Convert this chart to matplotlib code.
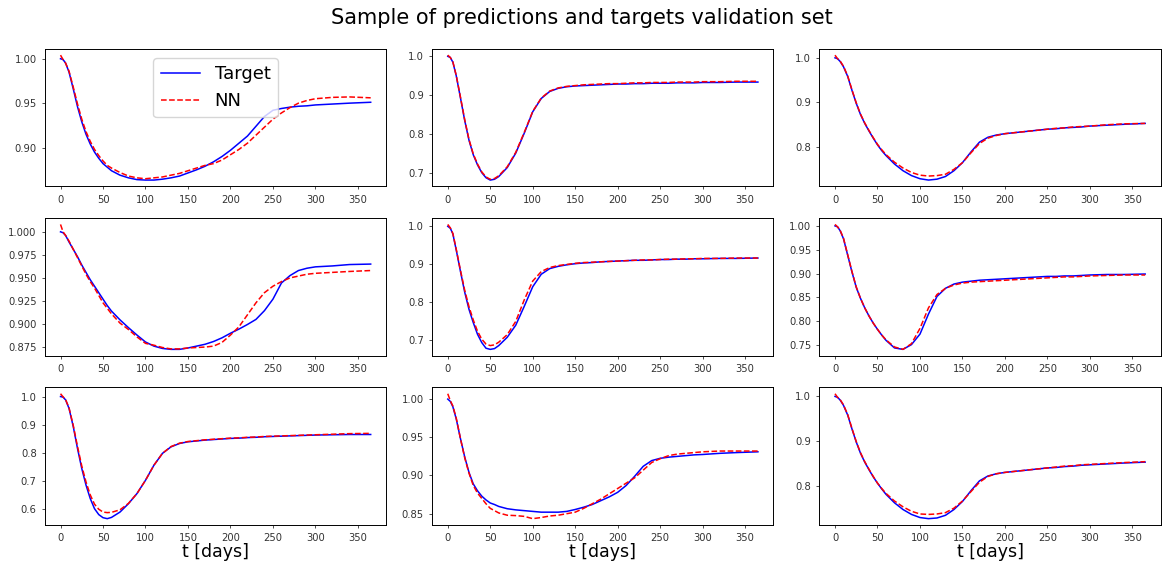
import matplotlib
matplotlib.use('Agg')
import matplotlib.pyplot as plt
import matplotlib.ticker as mticker

plt.rcParams.update({
    'font.family': 'DejaVu Sans',
    'xtick.labelsize': 7.2,
    'ytick.labelsize': 7.2,
    'xtick.major.size': 2.5,
    'ytick.major.size': 2.5,
    'xtick.major.width': 0.6,
    'ytick.major.width': 0.6,
    'axes.linewidth': 0.7,
})

# days
T = [0, 3, 6, 10, 15, 20, 25, 30, 35, 40, 45, 50, 55, 60, 70, 80, 90, 100, 110, 120,
     130, 140, 150, 160, 170, 180, 190, 200, 210, 220, 230, 240, 250, 260, 270, 280,
     290, 300, 320, 340, 365]

target_1 = [1.000, 0.999, 0.995, 0.985, 0.966, 0.946, 0.929, 0.915, 0.904, 0.895, 0.888,
            0.882, 0.878, 0.874, 0.869, 0.866, 0.864, 0.8635, 0.8635, 0.8645, 0.866, 0.868,
            0.8715, 0.875, 0.879, 0.884, 0.890, 0.897, 0.905, 0.913, 0.924, 0.935, 0.942,
            0.944, 0.9455, 0.9465, 0.947, 0.948, 0.949, 0.950, 0.951]
nn_1 = [1.004, 0.999, 0.995, 0.986, 0.968, 0.949, 0.932, 0.918, 0.907, 0.898, 0.891, 0.885,
        0.880, 0.877, 0.872, 0.868, 0.866, 0.865, 0.866, 0.867, 0.869, 0.871, 0.874, 0.877,
        0.880, 0.882, 0.886, 0.892, 0.898, 0.905, 0.914, 0.923, 0.932, 0.939, 0.945, 0.950,
        0.953, 0.955, 0.9565, 0.957, 0.956]

target_2 = [1.000, 0.997, 0.985, 0.950, 0.893, 0.835, 0.785, 0.748, 0.722, 0.702, 0.689,
            0.683, 0.685, 0.692, 0.715, 0.752, 0.803, 0.858, 0.892, 0.910, 0.918, 0.922,
            0.924, 0.925, 0.926, 0.927, 0.928, 0.929, 0.929, 0.930, 0.930, 0.931, 0.931,
            0.931, 0.932, 0.932, 0.932, 0.933, 0.933, 0.934, 0.934]
nn_2 = [1.003, 0.997, 0.986, 0.951, 0.895, 0.837, 0.787, 0.750, 0.724, 0.704, 0.691, 0.685,
        0.687, 0.694, 0.717, 0.754, 0.805, 0.859, 0.893, 0.911, 0.919, 0.923, 0.925, 0.927,
        0.928, 0.929, 0.930, 0.930, 0.931, 0.932, 0.932, 0.933, 0.933, 0.933, 0.934, 0.934,
        0.934, 0.935, 0.935, 0.936, 0.936]

target_3 = [1.000, 0.998, 0.992, 0.980, 0.958, 0.927, 0.898, 0.873, 0.853, 0.836, 0.820,
            0.805, 0.792, 0.781, 0.762, 0.747, 0.736, 0.729, 0.726, 0.728, 0.734, 0.747,
            0.765, 0.789, 0.811, 0.822, 0.827, 0.830, 0.832, 0.834, 0.836, 0.838, 0.840,
            0.841, 0.843, 0.844, 0.845, 0.847, 0.849, 0.851, 0.853]
nn_3 = [1.006, 0.998, 0.993, 0.981, 0.959, 0.928, 0.899, 0.874, 0.854, 0.837, 0.821, 0.806,
        0.794, 0.783, 0.766, 0.753, 0.743, 0.737, 0.735, 0.736, 0.739, 0.750, 0.765, 0.787,
        0.808, 0.820, 0.826, 0.830, 0.832, 0.834, 0.836, 0.838, 0.840, 0.842, 0.843, 0.845,
        0.846, 0.847, 0.850, 0.852, 0.853]

target_4 = [1.000, 0.999, 0.996, 0.989, 0.981, 0.973, 0.964, 0.956, 0.948, 0.941, 0.934,
            0.927, 0.920, 0.914, 0.9045, 0.896, 0.888, 0.8805, 0.876, 0.8735, 0.8725, 0.8725,
            0.874, 0.876, 0.878, 0.881, 0.885, 0.890, 0.8945, 0.8995, 0.905, 0.9145, 0.927,
            0.9445, 0.9525, 0.958, 0.9605, 0.962, 0.963, 0.9645, 0.965]
nn_4 = [1.008, 1.000, 0.996, 0.990, 0.981, 0.972, 0.963, 0.954, 0.946, 0.939, 0.931, 0.923,
        0.917, 0.911, 0.901, 0.894, 0.886, 0.879, 0.877, 0.8745, 0.873, 0.873, 0.874, 0.8745,
        0.875, 0.876, 0.880, 0.888, 0.897, 0.910, 0.923, 0.934, 0.941, 0.946, 0.950, 0.952,
        0.954, 0.955, 0.956, 0.957, 0.958]

target_5 = [1.000, 0.995, 0.980, 0.937, 0.880, 0.825, 0.780, 0.745, 0.714, 0.692, 0.677,
            0.674, 0.676, 0.684, 0.706, 0.738, 0.788, 0.840, 0.873, 0.888, 0.894, 0.898,
            0.901, 0.903, 0.904, 0.906, 0.907, 0.908, 0.909, 0.910, 0.910, 0.911, 0.912,
            0.912, 0.913, 0.913, 0.914, 0.914, 0.915, 0.915, 0.916]
nn_5 = [1.005, 0.996, 0.981, 0.939, 0.883, 0.830, 0.787, 0.752, 0.722, 0.701, 0.688, 0.684,
        0.686, 0.693, 0.713, 0.748, 0.805, 0.855, 0.880, 0.891, 0.896, 0.899, 0.902, 0.904,
        0.905, 0.906, 0.907, 0.908, 0.909, 0.910, 0.911, 0.911, 0.912, 0.913, 0.913, 0.914,
        0.914, 0.915, 0.915, 0.916, 0.916]

target_6 = [1.000, 0.998, 0.990, 0.973, 0.938, 0.903, 0.871, 0.848, 0.828, 0.811, 0.796,
            0.783, 0.771, 0.760, 0.744, 0.741, 0.751, 0.773, 0.815, 0.852, 0.869, 0.878,
            0.882, 0.884, 0.886, 0.887, 0.888, 0.889, 0.890, 0.891, 0.892, 0.893, 0.894,
            0.894, 0.895, 0.895, 0.896, 0.897, 0.898, 0.898, 0.899]
nn_6 = [1.003, 0.998, 0.991, 0.974, 0.939, 0.904, 0.872, 0.848, 0.828, 0.811, 0.796, 0.783,
        0.771, 0.761, 0.746, 0.741, 0.753, 0.785, 0.828, 0.856, 0.869, 0.876, 0.880, 0.882,
        0.883, 0.884, 0.885, 0.886, 0.887, 0.888, 0.889, 0.890, 0.891, 0.892, 0.893, 0.893,
        0.894, 0.895, 0.896, 0.897, 0.897]

target_7 = [1.000, 0.998, 0.988, 0.958, 0.893, 0.815, 0.744, 0.685, 0.637, 0.601, 0.580,
            0.569, 0.5655, 0.570, 0.589, 0.619, 0.655, 0.702, 0.756, 0.798, 0.821, 0.833,
            0.839, 0.842, 0.845, 0.847, 0.849, 0.851, 0.852, 0.854, 0.855, 0.857, 0.858,
            0.859, 0.860, 0.861, 0.862, 0.863, 0.864, 0.865, 0.865]
nn_7 = [1.010, 0.999, 0.989, 0.960, 0.897, 0.822, 0.753, 0.696, 0.650, 0.617, 0.599, 0.589,
        0.587, 0.588, 0.597, 0.620, 0.655, 0.702, 0.756, 0.798, 0.822, 0.834, 0.840, 0.843,
        0.846, 0.848, 0.850, 0.852, 0.853, 0.855, 0.856, 0.858, 0.859, 0.860, 0.861, 0.862,
        0.863, 0.864, 0.866, 0.868, 0.869]

target_8 = [1.000, 0.997, 0.990, 0.974, 0.948, 0.924, 0.904, 0.889, 0.880, 0.873, 0.868,
            0.864, 0.862, 0.8595, 0.8565, 0.855, 0.854, 0.853, 0.852, 0.852, 0.852, 0.853,
            0.8555, 0.8585, 0.862, 0.867, 0.872, 0.878, 0.887, 0.899, 0.912, 0.9195, 0.9225,
            0.924, 0.925, 0.926, 0.927, 0.9275, 0.929, 0.930, 0.931]
nn_8 = [1.007, 0.998, 0.991, 0.975, 0.948, 0.923, 0.903, 0.887, 0.877, 0.870, 0.863, 0.857,
        0.854, 0.851, 0.848, 0.8475, 0.8465, 0.8435, 0.845, 0.847, 0.848, 0.850, 0.852, 0.857,
        0.863, 0.869, 0.876, 0.883, 0.890, 0.897, 0.907, 0.917, 0.922, 0.926, 0.928, 0.929,
        0.930, 0.931, 0.932, 0.932, 0.932]

target_9 = [1.000, 0.998, 0.992, 0.980, 0.958, 0.927, 0.898, 0.873, 0.853, 0.836, 0.820,
            0.806, 0.793, 0.781, 0.762, 0.747, 0.736, 0.729, 0.7265, 0.728, 0.734, 0.747,
            0.765, 0.789, 0.811, 0.822, 0.827, 0.830, 0.832, 0.834, 0.836, 0.838, 0.840,
            0.841, 0.843, 0.844, 0.846, 0.847, 0.849, 0.851, 0.853]
nn_9 = [1.006, 0.998, 0.993, 0.981, 0.959, 0.928, 0.899, 0.874, 0.854, 0.837, 0.821, 0.806,
        0.794, 0.783, 0.766, 0.753, 0.743, 0.737, 0.736, 0.737, 0.740, 0.750, 0.766, 0.787,
        0.808, 0.821, 0.827, 0.830, 0.832, 0.834, 0.836, 0.838, 0.840, 0.842, 0.844, 0.845,
        0.847, 0.848, 0.850, 0.852, 0.854]

targets = [target_1, target_2, target_3, target_4, target_5, target_6, target_7, target_8, target_9]
preds = [nn_1, nn_2, nn_3, nn_4, nn_5, nn_6, nn_7, nn_8, nn_9]

# spacing of the y ticks in each panel
ystep = [0.05, 0.1, 0.1, 0.025, 0.1, 0.05, 0.1, 0.05, 0.1]
ydec = [2, 1, 1, 3, 1, 2, 1, 2, 1]

fig, axes = plt.subplots(3, 3, figsize=(11.63, 5.62), dpi=100)
fig.subplots_adjust(left=0.0387, right=0.998, bottom=0.066, top=0.913,
                    wspace=0.135, hspace=0.232)

fig.suptitle('Sample of predictions and targets validation set', fontsize=15, y=0.985)

for i, ax in enumerate(axes.flat):
    ax.plot(T, targets[i], color='blue', lw=1.1, label='Target')
    ax.plot(T, preds[i], color='red', lw=1.1, ls='--', label='NN')
    ax.set_xticks([0, 50, 100, 150, 200, 250, 300, 350])
    ax.yaxis.set_major_locator(mticker.MultipleLocator(ystep[i]))
    ax.yaxis.set_major_formatter(mticker.FormatStrFormatter('%.' + str(ydec[i]) + 'f'))
    ax.tick_params(labelcolor='#333333', color='#333333')
    if i >= 6:
        ax.set_xlabel('t [days]', fontsize=12.5, labelpad=0)

axes[0, 0].legend(loc='upper center', fontsize=13, handlelength=2.2)

plt.savefig('out.png', dpi=100, facecolor='white')
